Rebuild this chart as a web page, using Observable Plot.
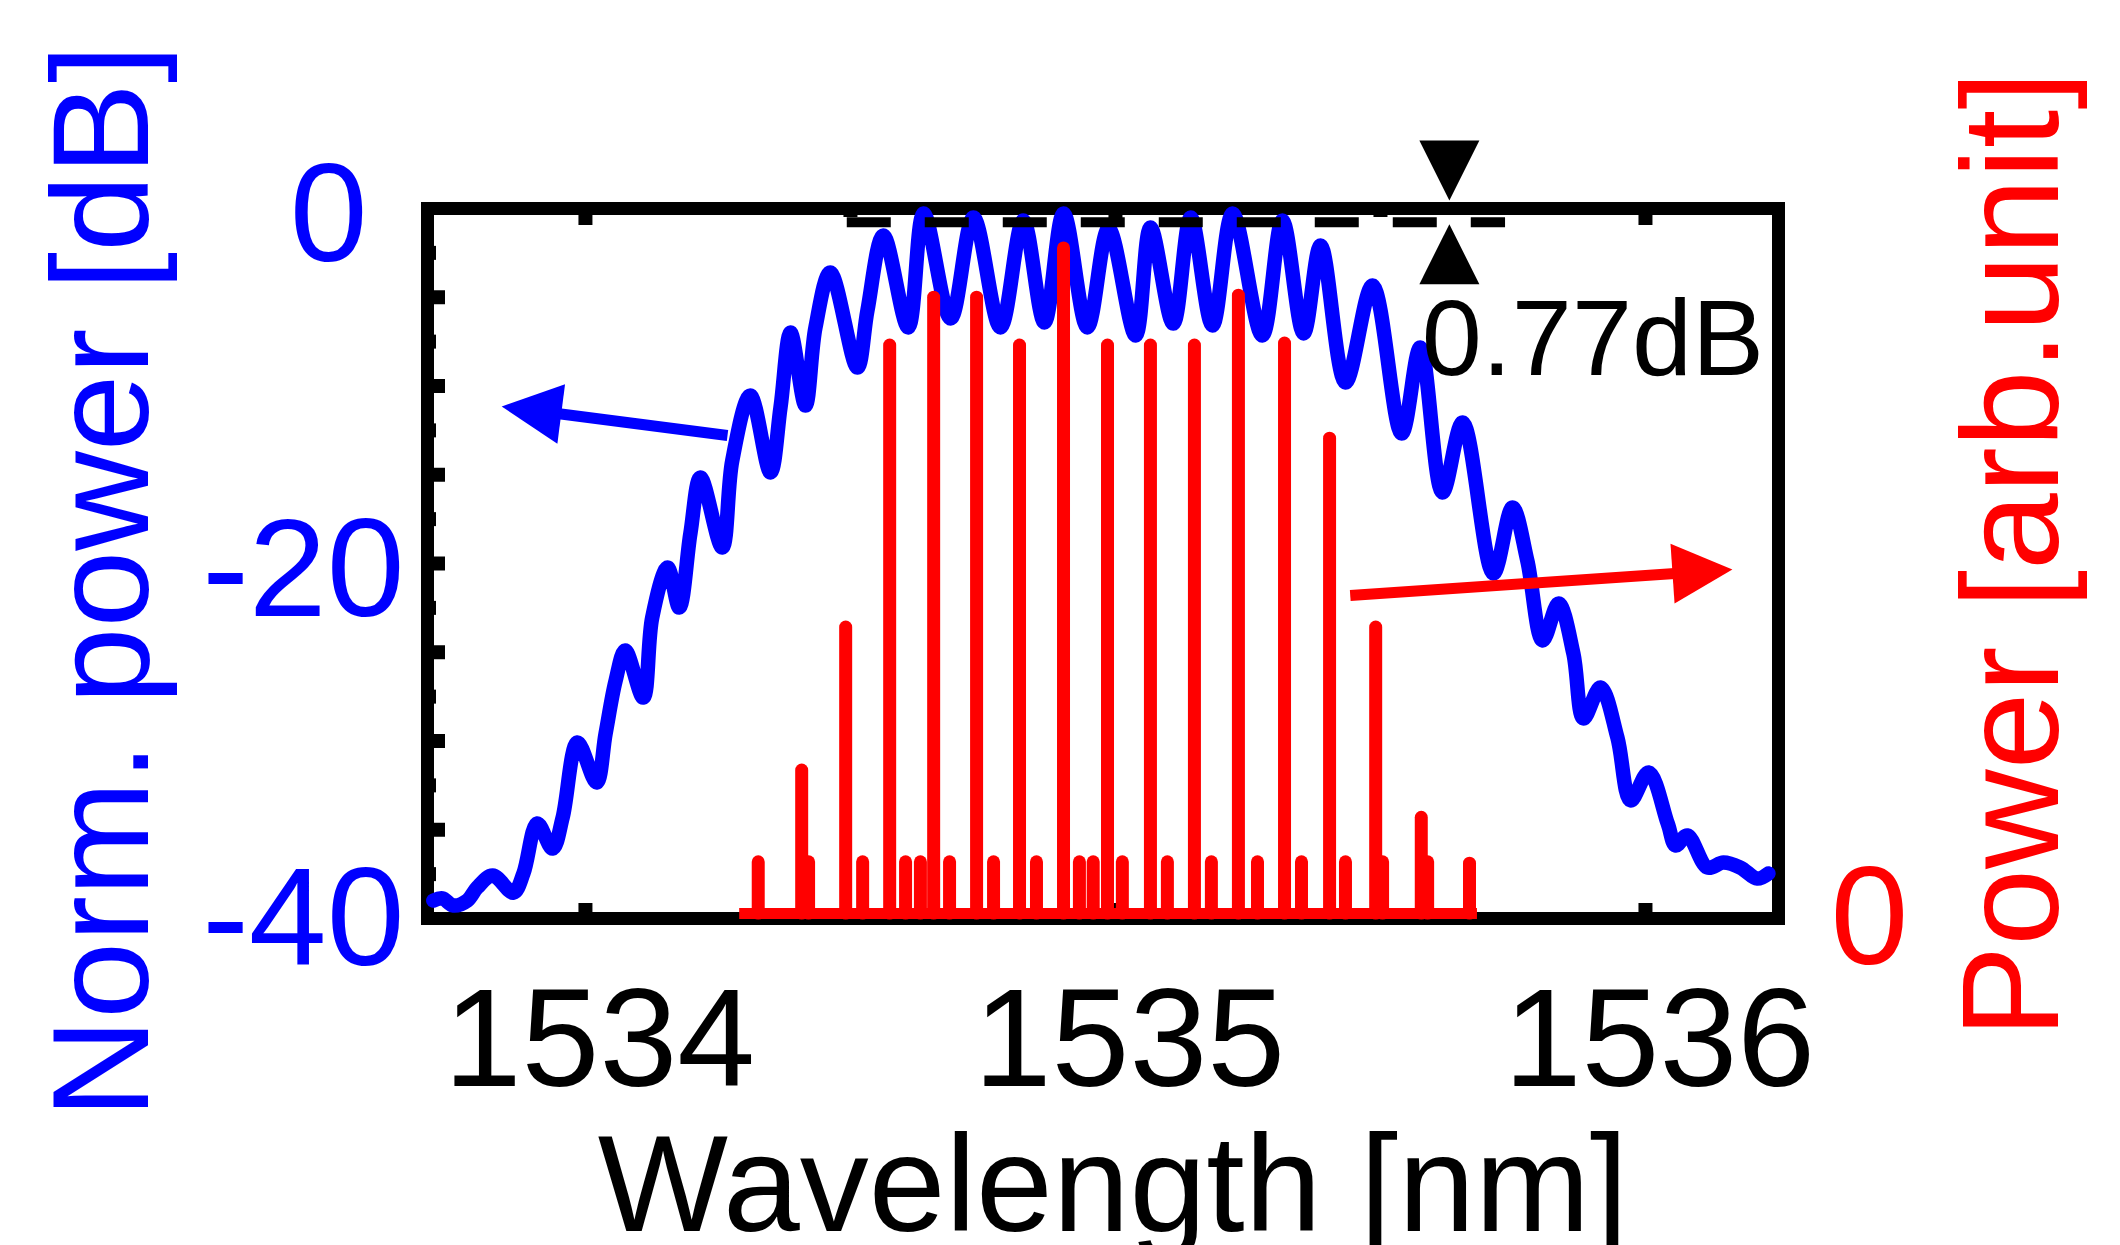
<!DOCTYPE html>
<html>
<head>
<meta charset="utf-8">
<script src="https://cdn.jsdelivr.net/npm/d3@7"></script>
<script src="https://cdn.jsdelivr.net/npm/@observablehq/plot@0.6"></script>
<style>
  html, body { margin: 0; padding: 0; background: #fff; overflow: hidden; }
  #chart svg { display: block; max-width: none !important; }
</style>
</head>
<body>
<div id="chart"></div>
<script>
// ---------------- data ----------------
// Blue: normalized transmission spectrum [dB]
const blueWavelength = [
  1533.713, 1533.730, 1533.751, 1533.777, 1533.796, 1533.825, 1533.864, 1533.883, 1533.909, 1533.938,
  1533.957, 1533.985, 1534.021, 1534.038, 1534.057, 1534.075, 1534.109, 1534.126, 1534.155, 1534.177,
  1534.198, 1534.217, 1534.258, 1534.277, 1534.311, 1534.349, 1534.368, 1534.387, 1534.415, 1534.434,
  1534.462, 1534.513, 1534.532, 1534.562, 1534.609, 1534.638, 1534.689, 1534.732, 1534.783, 1534.826,
  1534.866, 1534.902, 1534.947, 1534.987, 1535.038, 1535.066, 1535.109, 1535.142, 1535.183, 1535.221,
  1535.277, 1535.315, 1535.355, 1535.387, 1535.434, 1535.485, 1535.540, 1535.575, 1535.617, 1535.655,
  1535.713, 1535.749, 1535.777, 1535.806, 1535.836, 1535.864, 1535.883, 1535.915, 1535.947, 1535.972,
  1536.006, 1536.042, 1536.057, 1536.079, 1536.117, 1536.147, 1536.179, 1536.211, 1536.232
];
const bluePower = [
  -38.99, -38.87, -39.27, -38.99, -38.25, -37.58, -38.54, -37.46, -34.65, -36.06,
  -34.31, -30.08, -32.34, -29.58, -26.59, -24.90, -27.55, -23.04, -20.23, -22.48,
  -18.31, -15.15, -19.10, -14.20, -10.54, -14.87, -11.21, -6.99, -11.10, -6.70,
  -3.61, -8.96, -5.75, -1.52, -6.70, -0.28, -6.20, -0.51, -6.70, -0.68,
  -6.42, -0.28, -6.70, -1.13, -7.15, -1.07, -6.48, -0.51, -6.59, -0.28,
  -7.15, -0.68, -7.04, -2.08, -9.80, -4.34, -12.68, -7.83, -16.00, -12.06,
  -20.56, -16.85, -19.83, -24.34, -22.25, -25.07, -28.73, -26.99, -29.80, -33.35,
  -31.77, -34.65, -35.89, -35.32, -37.13, -36.85, -37.13, -37.75, -37.46
];

// Red: comb lines [arb. unit]
const redLineWavelength = [
  1534.326, 1534.408, 1534.491, 1534.574, 1534.657, 1534.738, 1534.819, 1534.902, 1534.985,
  1535.066, 1535.149, 1535.232, 1535.319, 1535.404, 1535.491, 1535.577, 1535.668
];
const redLinePower = [
  0.077, 0.215, 0.43, 0.854, 0.926, 0.926, 0.854, 1.0, 0.854,
  0.854, 0.854, 0.929, 0.857, 0.714, 0.43, 0.144, 0.075
];
const redSideWavelength = [
  1534.421, 1534.523, 1534.604, 1534.632, 1534.687, 1534.770, 1534.851, 1534.932, 1534.958,
  1535.013, 1535.098, 1535.181, 1535.268, 1535.351, 1535.434, 1535.504, 1535.589
];
const redSidePower = [
  0.077, 0.077, 0.077, 0.077, 0.077, 0.077, 0.077, 0.077, 0.077,
  0.077, 0.077, 0.077, 0.077, 0.077, 0.077, 0.077, 0.077
];
const redSpan = [1534.291, 1535.683];

// axes
const xDomain = [1533.702, 1536.251];
const yDomain = [-40, 0];
const xTicksMajor = [1534, 1535, 1536];
const xTicksMinor = [1534.5, 1535.5];
const yTickLabels = [0, -20, -40];
const yTicksMajor = [-35, -30, -25, -20, -15, -10, -5];
const yTicksMinor = [-37.5, -32.5, -27.5, -22.5, -17.5, -12.5, -7.5, -2.5];
const redTickLabels = [0];

// annotations
const flatnessLevel = -0.77;
const flatnessSpan = [1534.494, 1535.736];
const flatnessX = 1535.63;
const flatnessText = "0.77dB";
const flatnessTextPos = [1535.578, -9.4];
const blueArrow = { from: [1534.268, -12.79], to: [1533.842, -11.15] };
const redArrow = { from: [1535.443, -21.80], to: [1536.164, -20.34] };

const xTitle = "Wavelength [nm]";
const yTitleLeft = "Norm. power [dB]";
const yTitleRight = "Power [arb.unit]";

// ---------------- layout ----------------
const W = 2120, H = 1245;
const mL = 427, mR = 342, mT = 208, mB = 327;
const plotW = W - mL - mR, plotH = H - mT - mB;
const BLUE = "#0000ff", RED = "#ff0000";
const FONT = "'Liberation Sans', Arial, Helvetica, sans-serif";
// per-label offsets of the left tick labels (px)
const yLabelOffset = {"0": [-60, 8], "-20": [-23, 8], "-40": [-23, 2]};

// red axis shares the frame: its 0 sits on the bottom
const RED0 = -39.72, REDK = 37.47;
const redY = v => RED0 + v * REDK;

const xs = d3.scaleLinear(xDomain, [mL, W - mR]);
const ys = d3.scaleLinear(yDomain, [H - mB, mT]);

function triSymbol(angleDeg) {
  const a = angleDeg * Math.PI / 180, c = Math.cos(a), s = Math.sin(a);
  return {
    draw(ctx, size) {
      const r = Math.sqrt(size / Math.PI);
      const pts = [[0, -r], [0.75 * r, 0.5 * r], [-0.75 * r, 0.5 * r]]
        .map(([x, y]) => [x * c - y * s, x * s + y * c]);
      ctx.moveTo(pts[0][0], pts[0][1]);
      ctx.lineTo(pts[1][0], pts[1][1]);
      ctx.lineTo(pts[2][0], pts[2][1]);
      ctx.closePath();
    }
  };
}

function arrowMarks(a, color) {
  const p0 = [xs(a.from[0]), ys(a.from[1])], p1 = [xs(a.to[0]), ys(a.to[1])];
  const dx = p1[0] - p0[0], dy = p1[1] - p0[1], L = Math.hypot(dx, dy);
  const ux = dx / L, uy = dy / L, head = 60;
  const se = [p1[0] - ux * (head - 6), p1[1] - uy * (head - 6)];
  const ce = [p1[0] - ux * head * 2 / 3, p1[1] - uy * head * 2 / 3];
  const angle = Math.atan2(ux, -uy) * 180 / Math.PI;
  return [
    Plot.link([{x1: a.from[0], y1: a.from[1], x2: xs.invert(se[0]), y2: ys.invert(se[1])}],
      {x1: "x1", y1: "y1", x2: "x2", y2: "y2", stroke: color, strokeWidth: 11}),
    Plot.dot([{x: xs.invert(ce[0]), y: ys.invert(ce[1])}],
      {x: "x", y: "y", r: 40, symbol: triSymbol(angle), fill: color, stroke: "none"})
  ];
}

const blue = blueWavelength.map((w, i) => ({w, p: bluePower[i]}));
const redLines = redLineWavelength.map((w, i) => ({w, v: redLinePower[i]}))
  .concat(redSideWavelength.map((w, i) => ({w, v: redSidePower[i]})));

const yLabelMarks = yTickLabels.map(v => Plot.text([v], {
  y: d => d, text: d => String(d), frameAnchor: "left",
  dx: yLabelOffset[String(v)][0], dy: yLabelOffset[String(v)][1],
  lineAnchor: "middle", textAnchor: "end", fontSize: 140, fill: BLUE, fontFamily: FONT
}));

const chart = Plot.plot({
  width: W, height: H,
  marginLeft: mL, marginRight: mR, marginTop: mT, marginBottom: mB,
  x: {domain: xDomain, axis: null},
  y: {domain: yDomain, axis: null},
  style: {background: "white", fontFamily: FONT},
  marks: [
    Plot.frame({stroke: "black", strokeWidth: 13}),
    // x ticks (top & bottom, inward)
    Plot.ruleX(xTicksMajor, {x: d => d, stroke: "black", strokeWidth: 14, insetBottom: plotH - 17}),
    Plot.ruleX(xTicksMajor, {x: d => d, stroke: "black", strokeWidth: 14, insetTop: plotH - 15}),
    Plot.ruleX(xTicksMinor, {x: d => d, stroke: "black", strokeWidth: 14, insetBottom: plotH - 9}),
    Plot.ruleX(xTicksMinor, {x: d => d, stroke: "black", strokeWidth: 14, insetTop: plotH - 9}),
    // y ticks (left, inward)
    Plot.ruleY(yTicksMajor, {y: d => d, stroke: "black", strokeWidth: 14, insetRight: plotW - 18}),
    Plot.ruleY(yTicksMinor, {y: d => d, stroke: "black", strokeWidth: 14, insetRight: plotW - 9}),
    // blue spectrum
    Plot.line(blue, {x: "w", y: "p", stroke: BLUE, strokeWidth: 14.5, curve: "catmull-rom",
      strokeLinejoin: "round", strokeLinecap: "round"}),
    // red comb
    Plot.ruleY([RED0], {y: d => d, x1: () => redSpan[0], x2: () => redSpan[1], stroke: RED, strokeWidth: 11}),
    Plot.ruleX(redLines, {x: "w", y1: () => RED0, y2: d => redY(d.v), stroke: RED, strokeWidth: 13,
      strokeLinecap: "round"}),
    // flatness annotation
    Plot.ruleY([flatnessLevel], {y: d => d, x1: () => flatnessSpan[0], x2: () => flatnessSpan[1],
      stroke: "black", strokeWidth: 10, strokeDasharray: "44,34"}),
    Plot.dot([{x: flatnessX, y: 0}], {x: "x", y: "y", r: 40, symbol: triSymbol(180), dy: -48, fill: "black", stroke: "none"}),
    Plot.dot([{x: flatnessX, y: flatnessLevel}], {x: "x", y: "y", r: 40, symbol: triSymbol(0), dy: 42, fill: "black", stroke: "none"}),
    Plot.text([flatnessText], {x: () => flatnessTextPos[0], y: () => flatnessTextPos[1], text: d => d,
      textAnchor: "start", lineAnchor: "bottom", fontSize: 108, fill: "black", fontFamily: FONT}),
    // arrows
    ...arrowMarks(blueArrow, BLUE),
    ...arrowMarks(redArrow, RED),
    // tick labels
    Plot.text(xTicksMajor, {x: d => d, text: d => String(d), frameAnchor: "bottom", dy: 167, dx: 14,
      lineAnchor: "bottom", textAnchor: "middle", fontSize: 140, fill: "black", fontFamily: FONT}),
    ...yLabelMarks,
    Plot.text(redTickLabels, {y: d => redY(d), text: d => String(d), frameAnchor: "right", dx: 52, dy: 6,
      lineAnchor: "middle", textAnchor: "start", fontSize: 140, fill: RED, fontFamily: FONT}),
    // axis titles
    Plot.text([xTitle], {text: d => d, frameAnchor: "bottom", dx: 10, dy: 312, lineAnchor: "bottom",
      textAnchor: "middle", fontSize: 138, fill: "black", fontFamily: FONT}),
    Plot.text([yTitleLeft], {text: d => d, frameAnchor: "left", dx: -280, dy: 18, rotate: -90,
      lineAnchor: "bottom", textAnchor: "middle", fontSize: 138, fill: BLUE, fontFamily: FONT}),
    Plot.text([yTitleRight], {text: d => d, frameAnchor: "right", dx: 279, dy: -9, rotate: -90,
      lineAnchor: "bottom", textAnchor: "middle", fontSize: 138, fill: RED, fontFamily: FONT})
  ]
});
document.getElementById("chart").appendChild(chart);
</script>
</body>
</html>
